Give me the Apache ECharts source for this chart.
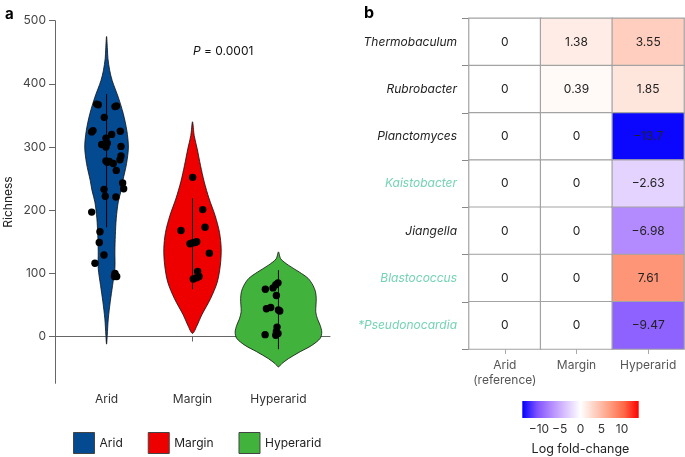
<!DOCTYPE html>
<html>
<head>
<meta charset="utf-8">
<script src="https://cdn.jsdelivr.net/npm/echarts@6/dist/echarts.min.js"></script>
<style>html,body{margin:0;padding:0;background:#fff}#c{width:685px;height:457px}</style>
</head>
<body>
<div id="c"></div>
<script>
// ---------- Panel a data ----------
const groups = ['Arid', 'Margin', 'Hyperarid'];
const yTicks = [0, 100, 200, 300, 400, 500];

const aridRichness = [368,367,364,365,347,324,326,320,325,314,306,304,300,301,286,280,278,276,277,274,263,233,222,221,243,234,197,166,149,129,116,100,95,95];
const aridJitter   = [-0.115,-0.097,0.098,0.115,-0.027,-0.173,-0.158,0.059,0.16,-0.007,0.008,-0.057,-0.007,0.168,0.168,0.156,-0.007,0.008,0.031,0.078,0.113,-0.03,-0.015,0.109,0.187,0.199,-0.173,-0.077,-0.085,-0.03,-0.135,0.098,0.118,0.092];

const marginRichness = [252,201,168,173,147,148,149,150,132,103,95,91,93];
const marginJitter   = [0.002,0.119,-0.134,0.146,-0.029,-0.002,0.029,0.049,0.196,0.06,0.076,0.009,0.049];

const hyperRichness = [85,82,77,75,65,46,44,42,40.5,15,8,5,3,2];
const hyperJitter   = [-0.005,-0.031,-0.063,-0.152,-0.024,-0.09,-0.14,0,0.015,-0.016,-0.024,-0.005,-0.155,-0.031];

const aridViolinY  = [475,455,440,421,405,379,353,326,300,274,247,231,213,187,160,134,108,81,55,28,2,-12];
const aridViolinHW = [0,0.01,0.016,0.037,0.066,0.136,0.194,0.236,0.254,0.233,0.19,0.169,0.136,0.113,0.102,0.097,0.097,0.07,0.043,0.02,0.008,0];
const marginViolinY  = [340,318,297,271,245,218,192,165,139,113,86,60,34,18,5];
const marginViolinHW = [0,0.02,0.055,0.093,0.136,0.194,0.262,0.314,0.334,0.324,0.288,0.21,0.107,0.055,0];
const hyperViolinY  = [134,123,113,102,92,81,71,60,50,39,28,18,7,-3,-14,-24,-35,-43,-48];
const hyperViolinHW = [0,0.027,0.116,0.244,0.346,0.402,0.431,0.44,0.437,0.434,0.454,0.485,0.504,0.485,0.388,0.253,0.116,0.038,0];

const aridRange = [173, 384];
const marginRange = [75, 219];
const hyperRange = [-20, 105];

// ---------- Panel b data ----------
const genera = ['Thermobaculum','Rubrobacter','Planctomyces','Kaistobacter','Jiangella','Blastococcus','*Pseudonocardia'];
const highlighted = ['Kaistobacter','Blastococcus','*Pseudonocardia'];
const conditions = ['Arid\n(reference)', 'Margin', 'Hyperarid'];
const aridLFC      = [0, 0, 0, 0, 0, 0, 0];
const marginLFC    = [1.38, 0.39, 0, 0, 0, 0, 0];
const hyperaridLFC = [3.55, 1.85, -13.7, -2.63, -6.98, 7.61, -9.47];
const colorbarTicks = [-10, -5, 0, 5, 10];
const lfcLimits = [-14, 14];

// ---------- styling ----------
const FONT = 'Inter';
const groupColors = ['#034a91', '#ee0000', '#41b23c'];
const rampColors = ['#0000ff','#7e51ff','#b38bff','#dcc5ff','#ffffff','#ffcfbf','#ff9e81','#ff6846','#ff0000'];
const teal = '#74d3b4';
const minus = s => String(s).replace('-', '\u2212');

const chart = echarts.init(document.getElementById('c'), null, {renderer: 'canvas'});

function violinSeries(name, idx, ys, hws) {
  const center = idx + 1;
  return {
    name: name, type: 'custom', xAxisIndex: 0, yAxisIndex: 0, z: 2,
    itemStyle: {color: groupColors[idx], borderColor: '#333', borderWidth: 1},
    data: [[center, 0]],
    renderItem: function (params, api) {
      const right = ys.map((v, i) => api.coord([center + hws[i], v]));
      const left = ys.map((v, i) => api.coord([center - hws[i], v])).slice(1, -1).reverse();
      return {
        type: 'polygon',
        shape: {points: right.concat(left), smooth: 0.3},
        style: {fill: groupColors[idx], stroke: '#111', lineWidth: 0.8}
      };
    }
  };
}
function rangeSeries(idx, r) {
  return {
    type: 'line', xAxisIndex: 0, yAxisIndex: 0, z: 3, symbol: 'none', silent: true,
    lineStyle: {color: '#000', width: 1}, data: [[idx + 1, r[0]], [idx + 1, r[1]]]
  };
}
function pointSeries(idx, vals, jit) {
  return {
    type: 'scatter', xAxisIndex: 0, yAxisIndex: 0, z: 4, symbolSize: 7.4, silent: true,
    itemStyle: {color: '#000', opacity: 1},
    data: vals.map((v, i) => [idx + 1 + jit[i], v])
  };
}

const heatData = [];
[aridLFC, marginLFC, hyperaridLFC].forEach((col, ci) => col.forEach((v, ri) => heatData.push([ci, ri, v])));

const option = {
  animation: false,
  textStyle: {fontFamily: FONT},
  title: [
    {text: 'a', left: 0, top: 2, textStyle: {fontSize: 15, fontWeight: 'bold', color: '#000', fontFamily: FONT}},
    {text: 'b', left: 359, top: 0, textStyle: {fontSize: 16, fontWeight: 'bold', color: '#000', fontFamily: FONT}},
    {text: '{i|P} = 0.0001', left: 188, top: 40,
      textStyle: {fontSize: 12, color: '#111', fontWeight: 'normal', fontFamily: FONT,
        rich: {i: {fontStyle: 'italic', fontSize: 12, color: '#111', fontFamily: FONT}}}}
  ],
  legend: {
    data: groups, left: 68, top: 427, itemWidth: 21, itemHeight: 21, itemGap: 25, icon: 'rect',
    textStyle: {fontSize: 12, color: '#222', fontFamily: FONT},
    itemStyle: {borderColor: '#444', borderWidth: 1}
  },
  grid: [
    {left: 55, right: 355, top: 20.7, bottom: 73.7},
    {left: 469, right: 1, top: 18.3, height: 330.7},
    {left: 522.3, width: 116.4, top: 401, height: 23}
  ],
  xAxis: [
    {type: 'value', gridIndex: 0, min: 0.4, max: 3.6,
      axisLine: {show: true, lineStyle: {color: '#666', width: 1}},
      axisTick: {show: true, length: 5, lineStyle: {color: '#666'}, customValues: [1, 2, 3]},
      axisLabel: {customValues: [1, 2, 3], formatter: v => groups[Math.round(v) - 1], fontSize: 12, color: '#333', margin: 10},
      splitLine: {show: false}},
    {type: 'category', gridIndex: 1, data: conditions, position: 'bottom',
      axisLine: {show: false},
      axisTick: {show: true, alignWithLabel: true, length: 5, lineStyle: {color: '#aaa'}},
      axisLabel: {interval: 0, fontSize: 12, color: '#555', lineHeight: 15, margin: 9},
      splitLine: {show: false}},
    {type: 'value', gridIndex: 2, min: lfcLimits[0], max: lfcLimits[1],
      axisLine: {show: false},
      axisTick: {show: true, inside: true, length: 3, customValues: colorbarTicks, lineStyle: {color: 'rgba(255,255,255,0.85)'}},
      axisLabel: {customValues: colorbarTicks, formatter: v => minus(v), fontSize: 12, color: '#333', margin: 5},
      name: 'Log fold-change', nameLocation: 'middle', nameGap: 25,
      nameTextStyle: {fontSize: 12.5, color: '#222', fontFamily: FONT},
      splitLine: {show: false}},
    {type: 'value', gridIndex: 2, position: 'top', min: lfcLimits[0], max: lfcLimits[1],
      axisLine: {show: false}, axisLabel: {show: false}, splitLine: {show: false},
      axisTick: {show: true, inside: true, length: 3, customValues: colorbarTicks, lineStyle: {color: 'rgba(255,255,255,0.85)'}}}
  ],
  yAxis: [
    {type: 'value', gridIndex: 0, min: -74, max: 500,
      axisLine: {show: true, lineStyle: {color: '#666', width: 1}},
      axisTick: {show: true, length: 6, customValues: yTicks, lineStyle: {color: '#666'}},
      axisLabel: {customValues: yTicks, fontSize: 12, color: '#444', margin: 9},
      splitLine: {show: false},
      name: 'Richness', nameLocation: 'middle', nameGap: 41, nameRotate: 90,
      nameTextStyle: {fontSize: 12, color: '#222', fontFamily: FONT}},
    {type: 'category', gridIndex: 1, data: genera, inverse: true,
      axisLine: {show: false},
      axisTick: {show: true, length: 7, lineStyle: {color: '#888'}},
      axisLabel: {interval: 0, fontSize: 12, fontStyle: 'italic', margin: 12,
        color: (v) => highlighted.indexOf(v) >= 0 ? teal : '#222'},
      splitLine: {show: false}},
    {type: 'value', gridIndex: 2, min: 0, max: 1, show: false}
  ],
  visualMap: {
    type: 'continuous', show: false, seriesIndex: 10, dimension: 2,
    min: lfcLimits[0], max: lfcLimits[1], inRange: {color: rampColors}
  },
  series: [
    violinSeries('Arid', 0, aridViolinY, aridViolinHW),
    violinSeries('Margin', 1, marginViolinY, marginViolinHW),
    violinSeries('Hyperarid', 2, hyperViolinY, hyperViolinHW),
    rangeSeries(0, aridRange),
    rangeSeries(1, marginRange),
    rangeSeries(2, hyperRange),
    pointSeries(0, aridRichness, aridJitter),
    pointSeries(1, marginRichness, marginJitter),
    pointSeries(2, hyperRichness, hyperJitter),
    {type: 'custom', xAxisIndex: 2, yAxisIndex: 2, silent: true,
      data: [[0, 0]],
      renderItem: function (params, api) {
        const p0 = api.coord([lfcLimits[0], 1]);
        const p1 = api.coord([lfcLimits[1], 0]);
        const stops = rampColors.map((c, i) => ({offset: i / (rampColors.length - 1), color: c}));
        return {type: 'rect', shape: {x: p0[0], y: p0[1], width: p1[0] - p0[0], height: p1[1] - p0[1]},
          style: {fill: new echarts.graphic.LinearGradient(0, 0, 1, 0, stops)}};
      }},
    {type: 'heatmap', xAxisIndex: 1, yAxisIndex: 1, data: heatData,
      itemStyle: {borderColor: '#a3a3a3', borderWidth: 1.2},
      label: {show: true, fontSize: 12, color: '#222', fontFamily: FONT,
        formatter: p => minus(p.value[2])}}
  ]
};
chart.setOption(option);
</script>
</body>
</html>
